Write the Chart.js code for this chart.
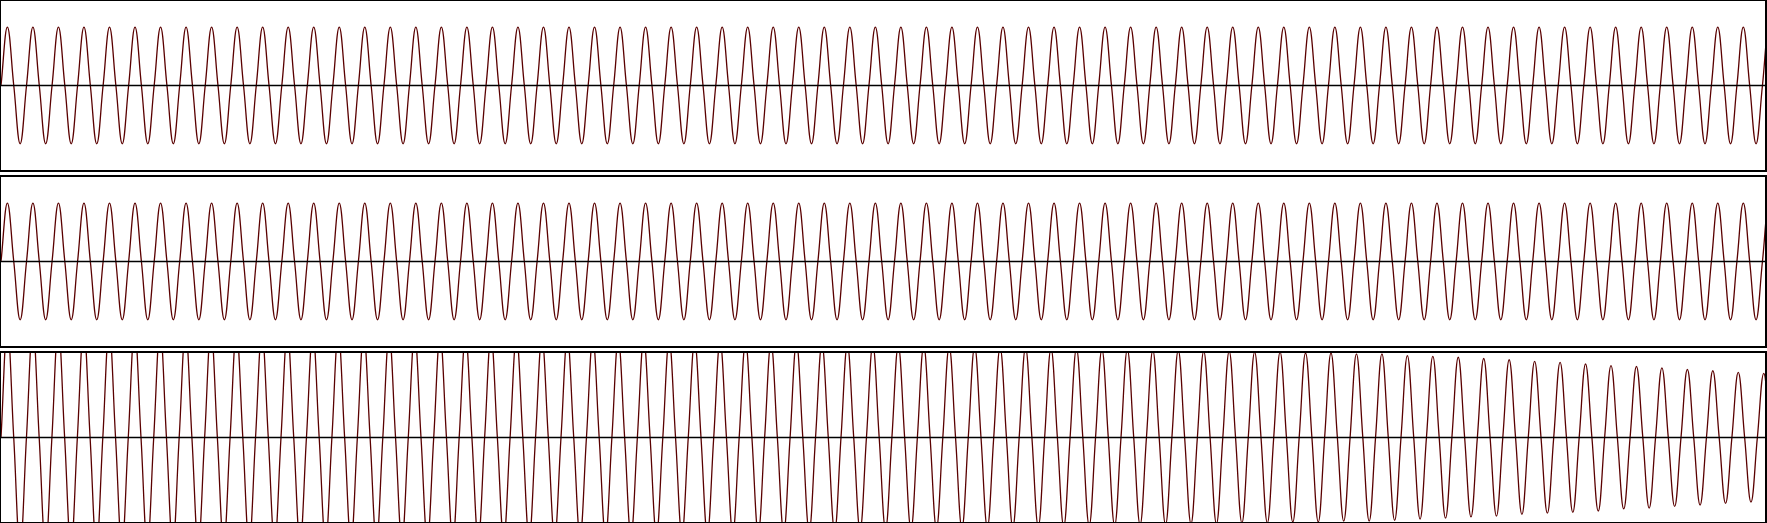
<!DOCTYPE html>
<html>
<head>
<meta charset="utf-8">
<script src="https://cdn.jsdelivr.net/npm/chart.js@4.4.1/dist/chart.umd.min.js"></script>
<style>
  html, body { margin: 0; padding: 0; background: #fff; overflow: hidden; }
  body { width: 1767px; height: 523px; position: relative; }
  .panel { position: absolute; left: -1px; width: 1768px; height: 173px; border: 2px solid #000; box-sizing: border-box; background: #fff; }
  .panel canvas { display: block; }
</style>
</head>
<body>
<div class="panel" style="top:-1px"><canvas id="c1" width="1764" height="169"></canvas></div>
<div class="panel" style="top:175px"><canvas id="c2" width="1764" height="169"></canvas></div>
<div class="panel" style="top:351px"><canvas id="c3" width="1764" height="169"></canvas></div>
<script>
// Extremum values (peak, trough, peak, ...) of each waveform, one per half cycle,
// read from the picture in units of the panel half-height. Zero crossings lie between them.
const panel1Extremes = [
 0.69,-0.69,0.69,-0.69,0.69,-0.69,0.69,-0.69,0.69,-0.69,0.69,-0.69,0.69,-0.69,0.69,-0.69,0.69,-0.69,0.69,-0.69,
 0.69,-0.69,0.69,-0.69,0.69,-0.69,0.69,-0.69,0.69,-0.69,0.69,-0.69,0.69,-0.69,0.69,-0.69,0.69,-0.69,0.69,-0.69,
 0.69,-0.69,0.69,-0.69,0.69,-0.69,0.69,-0.69,0.69,-0.69,0.69,-0.69,0.69,-0.69,0.69,-0.69,0.69,-0.69,0.69,-0.69,
 0.69,-0.69,0.69,-0.69,0.69,-0.69,0.69,-0.69,0.69,-0.69,0.69,-0.69,0.69,-0.69,0.69,-0.69,0.69,-0.69,0.69,-0.69,
 0.69,-0.69,0.69,-0.69,0.69,-0.69,0.69,-0.69,0.69,-0.69,0.69,-0.69,0.69,-0.69,0.69,-0.69,0.69,-0.69,0.69,-0.69,
 0.69,-0.69,0.69,-0.69,0.69,-0.69,0.69,-0.69,0.69,-0.69,0.69,-0.69,0.69,-0.69,0.69,-0.69,0.69,-0.69,0.69,-0.69,
 0.69,-0.69,0.69,-0.69,0.69,-0.69,0.69,-0.69,0.69,-0.69,0.69,-0.69,0.69,-0.69,0.69,-0.69,0.69,-0.69,0.69
];
const panel2Extremes = [
 0.69,-0.69,0.69,-0.69,0.69,-0.69,0.69,-0.69,0.69,-0.69,0.69,-0.69,0.69,-0.69,0.69,-0.69,0.69,-0.69,0.69,-0.69,
 0.69,-0.69,0.69,-0.69,0.69,-0.69,0.69,-0.69,0.69,-0.69,0.69,-0.69,0.69,-0.69,0.69,-0.69,0.69,-0.69,0.69,-0.69,
 0.69,-0.69,0.69,-0.69,0.69,-0.69,0.69,-0.69,0.69,-0.69,0.69,-0.69,0.69,-0.69,0.69,-0.69,0.69,-0.69,0.69,-0.69,
 0.69,-0.69,0.69,-0.69,0.69,-0.69,0.69,-0.69,0.69,-0.69,0.69,-0.69,0.69,-0.69,0.69,-0.69,0.69,-0.69,0.69,-0.69,
 0.69,-0.69,0.69,-0.69,0.69,-0.69,0.69,-0.69,0.69,-0.69,0.69,-0.69,0.69,-0.69,0.69,-0.69,0.69,-0.69,0.69,-0.69,
 0.69,-0.69,0.69,-0.69,0.69,-0.69,0.69,-0.69,0.69,-0.69,0.69,-0.69,0.69,-0.69,0.69,-0.69,0.69,-0.69,0.69,-0.69,
 0.69,-0.69,0.69,-0.69,0.69,-0.69,0.69,-0.69,0.69,-0.69,0.69,-0.69,0.69,-0.69,0.69,-0.69,0.69,-0.69,0.69
];
const panel3Extremes = [
 1.31,-1.31,1.30,-1.30,1.30,-1.29,1.29,-1.29,1.28,-1.28,1.28,-1.27,1.27,-1.27,1.26,-1.26,1.26,-1.25,1.25,-1.25,
 1.24,-1.24,1.24,-1.23,1.23,-1.23,1.23,-1.22,1.22,-1.22,1.21,-1.21,1.21,-1.20,1.20,-1.20,1.19,-1.19,1.19,-1.18,
 1.18,-1.18,1.17,-1.17,1.17,-1.16,1.16,-1.16,1.15,-1.15,1.15,-1.14,1.14,-1.14,1.13,-1.13,1.13,-1.12,1.12,-1.12,
 1.11,-1.11,1.11,-1.10,1.10,-1.10,1.09,-1.09,1.09,-1.08,1.08,-1.08,1.08,-1.07,1.07,-1.07,1.07,-1.06,1.06,-1.06,
 1.06,-1.05,1.05,-1.05,1.05,-1.04,1.04,-1.04,1.04,-1.03,1.03,-1.03,1.03,-1.02,1.02,-1.02,1.02,-1.01,1.01,-1.01,
 1.01,-1.00,1.00,-1.00,1.00,-0.99,0.99,-0.99,0.99,-0.98,0.97,-0.965,0.96,-0.955,0.95,-0.94,0.935,-0.93,0.92,-0.91,
 0.90,-0.895,0.89,-0.885,0.87,-0.87,0.85,-0.845,0.84,-0.835,0.825,-0.815,0.805,-0.80,0.79,-0.78,0.77,-0.765,0.76
];
// Visible span of each panel, in quarter-cycles of the tone
const panelSpans = [276.4, 276.4, 277.2];
const crossingLevel = 0;
const axisLine = [0, 0];

function buildWave(extremes) {
  const pts = [{ x: 0, y: crossingLevel }];
  extremes.forEach((v, i) => {
    pts.push({ x: 2 * i + 1, y: v });
    pts.push({ x: 2 * i + 2, y: crossingLevel });
  });
  return pts;
}

function makePanel(id, extremes, span) {
  const axisPts = [{ x: 0, y: axisLine[0] }, { x: span, y: axisLine[1] }];
  new Chart(document.getElementById(id), {
    type: 'line',
    data: {
      datasets: [
        { data: axisPts, borderColor: '#000000', borderWidth: 1.5, pointRadius: 0, tension: 0, order: 0 },
        { data: buildWave(extremes), borderColor: '#5a0000', borderWidth: 1.3, pointRadius: 0, tension: 0.4, order: 1 }
      ]
    },
    options: {
      responsive: false,
      animation: false,
      devicePixelRatio: 1,
      layout: { padding: 0 },
      events: [],
      plugins: { legend: { display: false }, tooltip: { enabled: false }, title: { display: false } },
      scales: {
        x: { type: 'linear', min: 0, max: span, display: false },
        y: { type: 'linear', min: -1, max: 1, display: false }
      }
    }
  });
}

makePanel('c1', panel1Extremes, panelSpans[0]);
makePanel('c2', panel2Extremes, panelSpans[1]);
makePanel('c3', panel3Extremes, panelSpans[2]);
</script>
</body>
</html>
